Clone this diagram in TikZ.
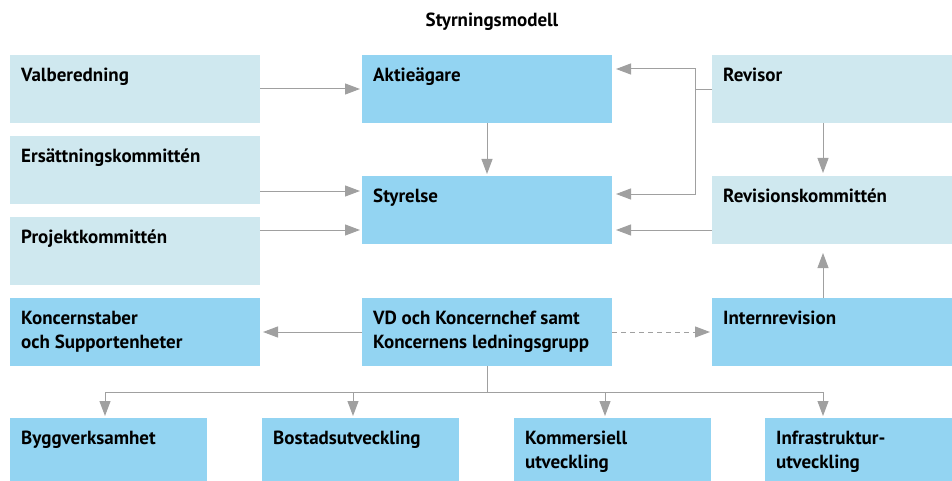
\documentclass[tikz,border=0pt]{standalone}
\usepackage{fontspec}
\setmainfont{PT Sans}
\usetikzlibrary{arrows.meta}
\definecolor{boxlite}{HTML}{CFE8EF}
\definecolor{boxdark}{HTML}{93D4F2}
\definecolor{arrgray}{HTML}{A0A0A0}

\begin{document}
\begin{tikzpicture}[x=1pt,y=-1pt,
    box/.style={rectangle,anchor=north west,minimum width=250pt,minimum height=68pt,inner sep=0pt,outer sep=0pt},
    lite/.style={box,fill=boxlite},
    dark/.style={box,fill=boxdark},
    unit/.style={dark,minimum width=197pt,minimum height=63pt},
    txt/.style={anchor=north west,align=left,inner xsep=11pt,inner ysep=12.5pt,font=\bfseries\fontsize{19}{24}\selectfont},
    link/.style={draw=arrgray,line width=1pt},
    arr/.style={link,-{Triangle[length=15pt,width=11pt]}}]
  \useasboundingbox (0,0) rectangle (952,481);
  \node[font=\bfseries\fontsize{19}{22}\selectfont] (title) at (492,22) {Styrningsmodell};

  \node[lite,label={[txt]north west:Valberedning}] (valb) at (10,55) {};
  \node[dark,label={[txt]north west:Aktieägare}] (aktie) at (362,55) {};
  \node[lite,minimum width=240pt,label={[txt]north west:Revisor}] (revisor) at (712,55) {};
  \node[lite,label={[txt]north west:Ersättningskommittén}] (ersatt) at (10,136) {};
  \node[dark,label={[txt]north west:Styrelse}] (styr) at (362,176) {};
  \node[lite,label={[txt]north west:Projektkommittén}] (projekt) at (10,217) {};
  \node[lite,minimum width=240pt,label={[txt]north west:Revisionskommittén}] (reviskom) at (712,176) {};
  \node[dark,label={[txt]north west:{Koncernstaber\\och Supportenheter}}] (stab) at (10,298) {};
  \node[dark,label={[txt]north west:{VD och Koncernchef samt\\Koncernens ledningsgrupp}}] (vd) at (362,298) {};
  \node[dark,minimum width=240pt,label={[txt]north west:Internrevision}] (intern) at (712,298) {};

  \node[unit,label={[txt]north west:Byggverksamhet}] (bygg) at (10,418) {};
  \node[unit,label={[txt]north west:Bostadsutveckling}] (bostad) at (262,418) {};
  \node[unit,label={[txt]north west:{Kommersiell\\utveckling}}] (komm) at (514,418) {};
  \node[unit,minimum width=187pt,label={[txt]north west:{Infrastruktur-\\utveckling}}] (infra) at (765,418) {};

  \coordinate (split) at (695,90);
  \coordinate (fork) at (487,392);

  \draw[arr,shorten >=2pt] (valb) -- (aktie);
  \draw[arr,shorten >=2pt] (aktie) -- (styr);
  \draw[arr,shorten >=2pt] (ersatt.east |- 0,191) -- (styr.west |- 0,191);
  \draw[arr,shorten >=2pt] (projekt.east |- 0,230) -- (styr.west |- 0,230);
  \draw[link] (revisor.west |- split) -- (split);
  \draw[arr,shorten >=4pt] (split) |- (aktie.east |- 0,69);
  \draw[arr,shorten >=4pt] (split) |- (styr.east |- 0,194);
  \draw[arr,shorten >=4pt] (reviskom.west |- 0,230) -- (styr.east |- 0,230);
  \draw[arr,shorten >=3pt] (revisor.south -| 823,0) -- (reviskom.north -| 823,0);
  \draw[arr,shorten >=9pt] (intern.north -| 823,0) -- (reviskom.south -| 823,0);
  \draw[arr,shorten >=3pt] (vd) -- (stab);
  \draw[arr,dash pattern=on 5pt off 4pt,shorten >=2pt] (vd) -- (intern);
  \draw[link] (vd) -- (fork);
  \foreach \n/\x in {bygg/105,bostad/353,komm/605,infra/823}
    \draw[arr,shorten >=2pt] (fork) -| (\n.north -| \x,0);
\end{tikzpicture}
\end{document}
